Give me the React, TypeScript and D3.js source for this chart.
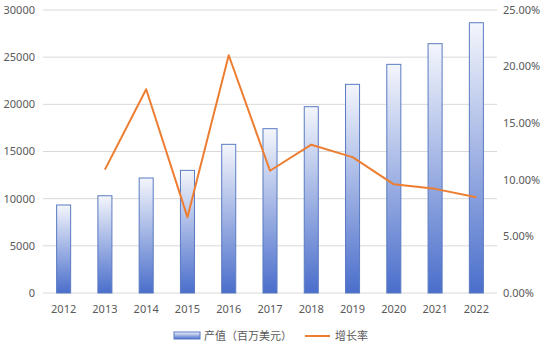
import React from 'react';
import * as d3 from 'd3';

const years = ['2012', '2013', '2014', '2015', '2016', '2017', '2018', '2019', '2020', '2021', '2022'];
const output = [9330, 10310, 12190, 13000, 15760, 17420, 19750, 22120, 24240, 26430, 28650];
const growth = [null, 10.9, 18.0, 6.7, 21.0, 10.8, 13.1, 12.0, 9.6, 9.2, 8.45];
const leftTicks = [0, 5000, 10000, 15000, 20000, 25000, 30000];
const rightTicks = [0, 5, 10, 15, 20, 25];

const W = 544;
const H = 351;
const m = { top: 10, right: 47, bottom: 58, left: 43 };

export default function App() {
  const x = d3.scaleBand().domain(years).range([m.left, W - m.right]).paddingInner(0.66).paddingOuter(0.33);
  const y = d3.scaleLinear().domain([0, 30000]).range([H - m.bottom, m.top]);
  const y2 = d3.scaleLinear().domain([0, 25]).range([H - m.bottom, m.top]);

  const pts = years
    .map((yr, i) => ({ yr, v: growth[i] }))
    .filter((d) => d.v !== null) as { yr: string; v: number }[];
  const line = d3
    .line<{ yr: string; v: number }>()
    .x((d) => (x(d.yr) as number) + x.bandwidth() / 2)
    .y((d) => y2(d.v));

  const font = '"Noto Sans", "Noto Sans CJK SC", sans-serif';
  const txt = '#595959';

  return (
    <svg width={W} height={H} style={{ position: 'absolute', left: 0, top: 0, background: '#fff' }} fontFamily={font}>
      <defs>
        <linearGradient id="barGrad" x1="0" y1="0" x2="0" y2="1">
          <stop offset="0%" stopColor="#f4f6fc" />
          <stop offset="100%" stopColor="#4a6ecb" />
        </linearGradient>
      </defs>
      {leftTicks.map((t) => (
        <g key={t}>
          <line x1={m.left} x2={W - m.right} y1={y(t)} y2={y(t)} stroke="#d9d9d9" strokeWidth={1} />
          <text x={35} y={y(t)} dy="0.35em" textAnchor="end" fontSize={11} fill={txt}>
            {t}
          </text>
        </g>
      ))}
      {rightTicks.map((t) => (
        <text key={t} x={503} y={y2(t)} dy="0.35em" textAnchor="start" fontSize={11} fill={txt}>
          {t.toFixed(2) + '%'}
        </text>
      ))}
      {years.map((yr, i) => (
        <rect
          key={yr}
          x={x(yr)}
          y={y(output[i])}
          width={x.bandwidth()}
          height={y(0) - y(output[i])}
          fill="url(#barGrad)"
          stroke="#5a7bc2"
          strokeWidth={1}
        />
      ))}
      <path d={line(pts) || ''} fill="none" stroke="#ed7d31" strokeWidth={2} strokeLinejoin="round" />
      {years.map((yr) => (
        <text
          key={yr}
          x={(x(yr) as number) + x.bandwidth() / 2}
          y={313}
          textAnchor="middle"
          fontSize={11}
          fill={txt}
        >
          {yr}
        </text>
      ))}
      <g fontSize={11} fill={txt}>
        <rect x={174} y={332} width={26} height={7} fill="url(#barGrad)" stroke="#5a7bc2" />
        <text x={204} y={340}>产值（百万美元）</text>
        <line x1={305} x2={330} y1={336} y2={336} stroke="#ed7d31" strokeWidth={2} />
        <text x={335} y={340}>增长率</text>
      </g>
    </svg>
  );
}
